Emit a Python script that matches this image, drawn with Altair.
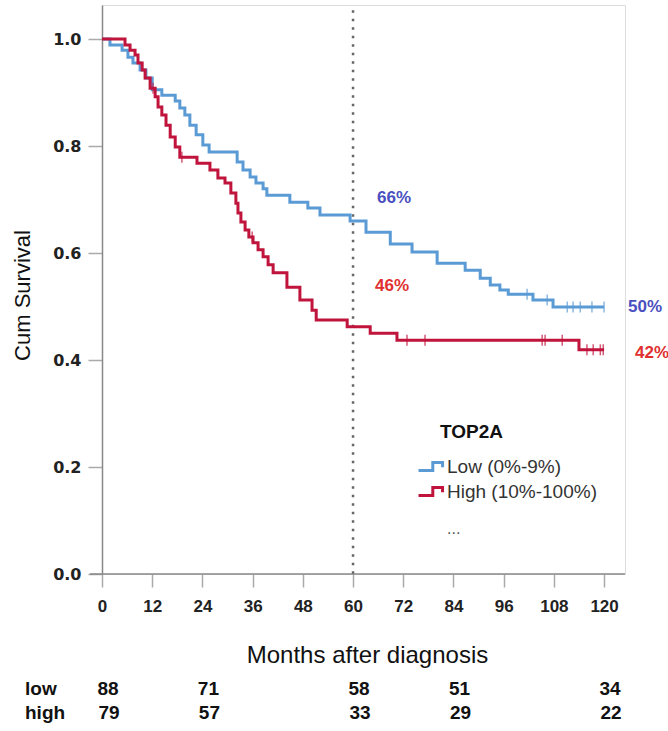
import altair as alt
import pandas as pd

# ---- data ----
groups = ["Low (0%-9%)", "High (10%-100%)"]

low_t = [0, 1.9, 4.8, 6.2, 7.4, 9.1, 10.5, 12.0, 14.3, 17.5, 18.6, 19.8, 21.0, 22.5, 24.1, 25.6,
         32.3, 33.7, 35.4, 36.8, 38.5, 39.4, 44.9, 49.2, 52.1, 59.3, 63.1, 68.9, 74.1, 80.1, 86.8,
         90.4, 92.8, 95.1, 97.1, 103.0, 107.8, 120.0]
low_s = [1.0, 0.989, 0.979, 0.966, 0.955, 0.942, 0.927, 0.905, 0.895, 0.884, 0.871, 0.858, 0.839,
         0.821, 0.802, 0.789, 0.770, 0.755, 0.742, 0.731, 0.720, 0.708, 0.695, 0.684, 0.671, 0.660,
         0.639, 0.617, 0.602, 0.581, 0.568, 0.553, 0.540, 0.531, 0.523, 0.512, 0.499, 0.499]

high_t = [0, 5.5, 6.7, 7.9, 8.6, 9.6, 10.3, 11.5, 12.7, 13.4, 14.3, 15.3, 16.3, 17.5, 18.6, 22.7,
          25.8, 27.7, 29.4, 30.8, 32.0, 32.5, 33.2, 34.2, 35.1, 36.1, 37.3, 38.5, 39.7, 40.9, 44.2,
          47.3, 50.2, 51.2, 58.6, 64.1, 70.5, 114.0, 120.0]
high_s = [1.0, 0.989, 0.979, 0.970, 0.955, 0.942, 0.927, 0.908, 0.892, 0.873, 0.858, 0.839, 0.817,
          0.798, 0.779, 0.768, 0.755, 0.740, 0.731, 0.712, 0.693, 0.675, 0.658, 0.643, 0.630, 0.619,
          0.606, 0.593, 0.578, 0.563, 0.536, 0.512, 0.493, 0.475, 0.462, 0.450, 0.437, 0.419, 0.419]

low_censor_t = [101.6, 106.4, 111.2, 112.6, 114.3, 117.1, 120.0]
high_censor_t = [12.2, 19.1, 35.9, 72.9, 77.2, 105.2, 105.9, 110.0, 115.9, 117.4, 119.1, 119.8]

mark_time = 60
pct_at_60 = ["66%", "46%"]
pct_at_120 = ["50%", "42%"]

risk_times = [0, 24, 60, 84, 120]
risk_low = [88, 71, 58, 51, 34]
risk_high = [79, 57, 33, 29, 22]
risk_rows = ["low", "high"]

x_ticks = [0, 12, 24, 36, 48, 60, 72, 84, 96, 108, 120]
y_ticks = [0.0, 0.2, 0.4, 0.6, 0.8, 1.0]

# ---- styling ----
colors = ["#5b9bd5", "#c0143c"]
label_colors = ["#4a50c0", "#e0302f"]
SANS = "Liberation Sans, Arial, Helvetica, sans-serif"
WIDE = "DejaVu Sans, Verdana, sans-serif"


def surv_at(ts, ss, t):
    v = ss[0]
    for a, b in zip(ts, ss):
        if a <= t:
            v = b
    return v


curves = pd.concat([
    pd.DataFrame({"t": low_t, "s": low_s, "group": groups[0]}),
    pd.DataFrame({"t": high_t, "s": high_s, "group": groups[1]}),
])
cens = pd.concat([
    pd.DataFrame({"t": low_censor_t, "s": [surv_at(low_t, low_s, t) for t in low_censor_t], "group": groups[0]}),
    pd.DataFrame({"t": high_censor_t, "s": [surv_at(high_t, high_s, t) for t in high_censor_t], "group": groups[1]}),
])

xs = alt.Scale(domain=[0, 125], nice=False, zero=False)
ys = alt.Scale(domain=[0, 1.0636], nice=False, zero=False)
color_scale = alt.Scale(domain=groups, range=colors)

# step-shaped legend glyph, retraced so that it encloses no area
step_symbol = ("M-1,0.3 L0.1,0.3 L0.1,-0.3 L0.85,-0.3 L0.85,0.05 "
               "L0.85,-0.3 L0.1,-0.3 L0.1,0.3 Z")

lines = alt.Chart(curves).mark_line(interpolate="step-after", strokeWidth=3).encode(
    x=alt.X("t:Q", scale=xs, axis=alt.Axis(
        values=x_ticks, domain=False, grid=False, tickSize=13, tickColor="#aaaaaa", tickWidth=1.5,
        labelFont=SANS, labelFontSize=17, labelFontWeight="bold", labelColor="#222222",
        labelPadding=11, labelFlush=False,
        title="Months after diagnosis", titleFont=SANS, titleFontSize=24, titleFontWeight="normal",
        titleColor="#111111", titleX=265, titleY=81, titleBaseline="middle", titleAnchor="start",
        titleAlign="center")),
    y=alt.Y("s:Q", scale=ys, axis=alt.Axis(
        values=y_ticks, format=".1f", grid=False, domainColor="#888888", domainWidth=1.5,
        tickSize=14, tickColor="#aaaaaa", tickWidth=1.5,
        labelFont=WIDE, labelFontSize=16, labelFontWeight="bold", labelColor="#222222", labelPadding=7,
        title="Cum Survival", titleFont=SANS, titleFontSize=22, titleFontWeight="normal",
        titleColor="#111111", titleX=-80, titleY=290, titleAngle=-90, titleBaseline="middle",
        titleAlign="center", titleAnchor="start")),
    color=alt.Color("group:N", scale=color_scale, sort=groups, legend=alt.Legend(
        title=None, orient="none", legendX=315, legendY=447, symbolType=step_symbol,
        symbolStrokeWidth=3, symbolSize=676, symbolFillColor="transparent",
        labelFont=SANS, labelFontSize=19, labelColor="#333333",
        rowPadding=0, labelOffset=1)),
)

ticks = alt.Chart(cens).mark_tick(orient="vertical", size=11, thickness=1.5).encode(
    x=alt.X("t:Q", scale=xs), y=alt.Y("s:Q", scale=ys),
    color=alt.Color("group:N", scale=color_scale, legend=None),
)

x_axis_line = alt.Chart(pd.DataFrame({"a": [0]})).mark_rule(color="#888888", strokeWidth=1.5).encode(
    x=alt.datum(-2.9, scale=xs), x2=alt.datum(125), y=alt.datum(0, scale=ys))

vline = alt.Chart(pd.DataFrame({"a": [0]})).mark_rule(
    color="#666666", strokeWidth=2.5, strokeDash=[2.5, 6]).encode(
    x=alt.datum(mark_time, scale=xs), y=alt.datum(1.054, scale=ys), y2=alt.datum(0))


def pct_label(t, s, text, col, dx, dy):
    return alt.Chart(pd.DataFrame({"t": [t], "s": [s], "lab": [text]})).mark_text(
        font=SANS, fontSize=17, fontWeight="bold", color=col, dx=dx, dy=dy).encode(
        x=alt.X("t:Q", scale=xs), y=alt.Y("s:Q", scale=ys), text="lab:N")


labels = [
    pct_label(mark_time, surv_at(low_t, low_s, mark_time), pct_at_60[0], label_colors[0], 41, -23),
    pct_label(mark_time, surv_at(high_t, high_s, mark_time), pct_at_60[1], label_colors[1], 39, -41),
    pct_label(120, surv_at(low_t, low_s, 120), pct_at_120[0], label_colors[0], 41, 0),
    pct_label(120, surv_at(high_t, high_s, 120), pct_at_120[1], label_colors[1], 48, 3),
]

legend_title = alt.Chart(pd.DataFrame({"lab": ["TOP2A"]})).mark_text(
    font=SANS, fontSize=19, fontWeight="bold", color="#111111", align="left", baseline="middle").encode(
    x=alt.value(338), y=alt.value(427), text="lab:N")
legend_more = alt.Chart(pd.DataFrame({"lab": ["..."]})).mark_text(
    font=SANS, fontSize=16, color="#555555", align="left", baseline="middle").encode(
    x=alt.value(345), y=alt.value(524), text="lab:N")

risk = pd.DataFrame({
    "t": risk_times * 2,
    "n": risk_low + risk_high,
    "row": [risk_rows[0]] * len(risk_times) + [risk_rows[1]] * len(risk_times),
})
risk_low_txt = alt.Chart(risk[risk.row == "low"]).mark_text(
    font=SANS, fontSize=19, fontWeight="bold", color="#111111", dx=6, baseline="middle").encode(
    x=alt.X("t:Q", scale=xs), y=alt.value(684), text="n:Q")
risk_high_txt = alt.Chart(risk[risk.row == "high"]).mark_text(
    font=SANS, fontSize=19, fontWeight="bold", color="#111111", dx=7, baseline="middle").encode(
    x=alt.X("t:Q", scale=xs), y=alt.value(708), text="n:Q")
row_labels = alt.Chart(pd.DataFrame({"lab": risk_rows, "yy": [684, 708]})).mark_text(
    font=SANS, fontSize=19, fontWeight="bold", color="#111111", align="left", baseline="middle").encode(
    x=alt.value(-77), y=alt.Y("yy:Q", scale=None), text="lab:N")

chart = alt.layer(
    x_axis_line, vline, lines, ticks, *labels, legend_title, legend_more,
    risk_low_txt, risk_high_txt, row_labels,
).properties(
    width=523, height=569,
    autosize=alt.AutoSizeParams(type="none"),
    padding={"left": 102, "top": 5, "right": 43, "bottom": 157},
).configure_view(stroke=None).configure(background="white")

chart.save("out.html", embed_options={"renderer": "svg", "actions": False})
